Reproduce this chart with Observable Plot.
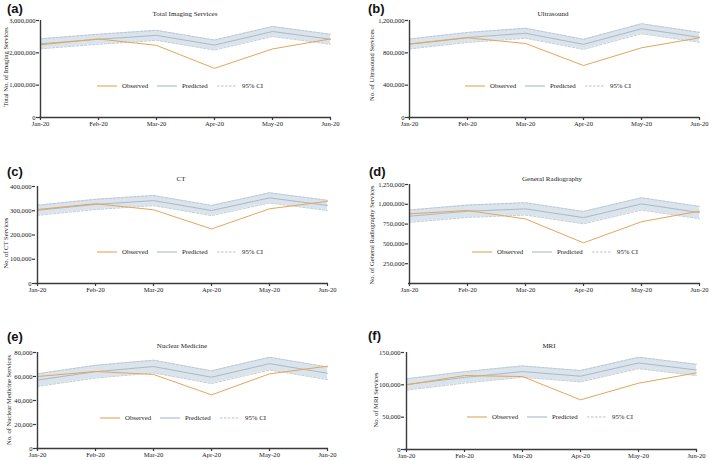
<!DOCTYPE html>
<html><head><meta charset="utf-8">
<script src="https://cdn.jsdelivr.net/npm/d3@7"></script>
<script src="https://cdn.jsdelivr.net/npm/@observablehq/plot@0.6"></script>
<style>
body{margin:0;background:#fff;}
#root{position:relative;width:709px;height:460px;overflow:hidden;font-family:"Liberation Serif",serif;color:#222;}
.abs{position:absolute;}
.letter{font-family:"Liberation Sans",Arial,sans-serif;font-weight:bold;font-size:13px;line-height:13px;color:#111;}
.title{font-size:7px;line-height:8px;white-space:nowrap;transform:translate(-50%,-50%);}
.ylab{font-size:6.6px;line-height:7px;white-space:nowrap;transform:translate(-50%,-50%) rotate(-90deg);}
.legend{display:flex;align-items:center;font-size:6.8px;line-height:8px;transform:translateY(-50%);white-space:nowrap;}
.item{display:flex;align-items:center;width:60px;}
.item svg{margin-right:5px;}
svg.plot{position:absolute;}
</style></head><body><div id="root"></div>
<script>
const months = ["Jan-20","Feb-20","Mar-20","Apr-20","May-20","Jun-20"];

// (a) Total Imaging Services
const totalObserved  = [2250000, 2430000, 2230000, 1520000, 2120000, 2430000];
const totalPredicted = [2280000, 2420000, 2540000, 2240000, 2660000, 2420000];
const totalLower     = [2125000, 2265000, 2385000, 2085000, 2505000, 2265000];
const totalUpper     = [2435000, 2575000, 2695000, 2395000, 2815000, 2575000];
const totalTicks     = [0, 1000000, 2000000, 3000000];

// (b) Ultrasound
const usObserved  = [907000, 986000, 916000, 643000, 862000, 986000];
const usPredicted = [910000, 990000, 1042000, 905000, 1098000, 992000];
const usLower     = [848000, 928000, 980000, 843000, 1036000, 930000];
const usUpper     = [972000, 1052000, 1104000, 967000, 1160000, 1054000];
const usTicks     = [0, 400000, 800000, 1200000];

// (c) CT
const ctObserved  = [305000, 329000, 304000, 225000, 308000, 339000];
const ctPredicted = [302000, 326000, 342000, 301000, 353000, 322000];
const ctLower     = [281000, 305000, 321000, 280000, 332000, 301000];
const ctUpper     = [323000, 347000, 363000, 322000, 374000, 343000];
const ctTicks     = [0, 100000, 200000, 300000, 400000];

// (d) General Radiography
const grObserved  = [880000, 922000, 815000, 513000, 780000, 914000];
const grPredicted = [850000, 912000, 942000, 832000, 1005000, 895000];
const grLower     = [772000, 834000, 864000, 754000, 927000, 817000];
const grUpper     = [928000, 990000, 1020000, 910000, 1083000, 973000];
const grTicks     = [250000, 500000, 750000, 1000000, 1250000];

// (e) Nuclear Medicine
const nmObserved  = [60000, 64200, 61700, 44700, 62200, 68600];
const nmPredicted = [57000, 64000, 68300, 59400, 70700, 62700];
const nmLower     = [51700, 58700, 63000, 54100, 65400, 57400];
const nmUpper     = [62300, 69300, 73600, 64700, 76000, 68000];
const nmTicks     = [0, 20000, 40000, 60000, 80000];

// (f) MRI
const mriObserved  = [100000, 114400, 112800, 76800, 102500, 118500];
const mriPredicted = [100500, 111500, 120500, 113300, 133800, 123000];
const mriLower     = [91700, 102700, 111700, 104500, 125000, 114200];
const mriUpper     = [109300, 120300, 129300, 122100, 142600, 131800];
const mriTicks     = [0, 50000, 100000, 150000];

const legendLabels = ["Observed", "Predicted", "95% CI"];

const C = {obs:"#e2a65a", pred:"#aab9c9", band:"#dbe3eb", ci:"#b3c1cf", axis:"#3a3a3a"};
const root = document.getElementById("root");

const panels = [
  {letter:"(a)", title:"Total Imaging Services", ylabel:"Total No. of Imaging Services",
   obs:totalObserved, pred:totalPredicted, lo:totalLower, hi:totalUpper, ticks:totalTicks, ymax:3000000,
   left:0, top:0, w:354, h:140, ml:39, mr:23, mt:20, mb:23,
   letterXY:[7,2], titleXY:[185,14], ylabXY:[5,67], legXY:[97,86]},
  {letter:"(b)", title:"Ultrasound", ylabel:"No. of Ultrasound Services",
   obs:usObserved, pred:usPredicted, lo:usLower, hi:usUpper, ticks:usTicks, ymax:1200000,
   left:355, top:0, w:354, h:140, ml:53, mr:10, mt:20, mb:23,
   letterXY:[368,2], titleXY:[553,14], ylabXY:[371,65], legXY:[465,86]},
  {letter:"(c)", title:"CT", ylabel:"No. of CT Services",
   obs:ctObserved, pred:ctPredicted, lo:ctLower, hi:ctUpper, ticks:ctTicks, ymax:400000,
   left:0, top:150, w:354, h:150, ml:35, mr:26, mt:36, mb:17,
   letterXY:[7,165], titleXY:[181,179], ylabXY:[5,243], legXY:[97,252]},
  {letter:"(d)", title:"General Radiography", ylabel:"No. of General Radiography Services",
   obs:grObserved, pred:grPredicted, lo:grLower, hi:grUpper, ticks:grTicks, ymax:1250000,
   left:355, top:150, w:354, h:150, ml:53, mr:9, mt:34, mb:17,
   letterXY:[369,165], titleXY:[552,179], ylabXY:[371,235], legXY:[472,252]},
  {letter:"(e)", title:"Nuclear Medicine", ylabel:"No. of Nuclear Medicine Services",
   obs:nmObserved, pred:nmPredicted, lo:nmLower, hi:nmUpper, ticks:nmTicks, ymax:80000,
   left:0, top:300, w:354, h:160, ml:36, mr:26, mt:52, mb:12,
   letterXY:[7,330], titleXY:[182,346], ylabXY:[8,400], legXY:[100,418]},
  {letter:"(f)", title:"MRI", ylabel:"No. of MRI Services",
   obs:mriObserved, pred:mriPredicted, lo:mriLower, hi:mriUpper, ticks:mriTicks, ymax:150000,
   left:355, top:300, w:354, h:160, ml:49, mr:12, mt:52, mb:11,
   letterXY:[368,329], titleXY:[549,346], ylabXY:[375,400], legXY:[467,417]}
];

function div(cls, text, x, y) {
  const d = document.createElement("div");
  d.className = "abs " + cls;
  d.textContent = text;
  d.style.left = x + "px"; d.style.top = y + "px";
  root.appendChild(d);
  return d;
}

function swatch(kind) {
  const ns = "http://www.w3.org/2000/svg";
  const s = document.createElementNS(ns, "svg");
  s.setAttribute("width", 20); s.setAttribute("height", 4);
  const l = document.createElementNS(ns, "line");
  l.setAttribute("x1", 0); l.setAttribute("x2", 20); l.setAttribute("y1", 2); l.setAttribute("y2", 2);
  if (kind === 0) { l.setAttribute("stroke", C.obs); l.setAttribute("stroke-width", 1.1); }
  if (kind === 1) { l.setAttribute("stroke", C.pred); l.setAttribute("stroke-width", 1.1); }
  if (kind === 2) { l.setAttribute("stroke", C.ci); l.setAttribute("stroke-width", 1); l.setAttribute("stroke-dasharray", "2.5,1.5"); }
  s.appendChild(l);
  return s;
}

for (const p of panels) {
  const rows = months.map((m, i) => ({month:m, obs:p.obs[i], pred:p.pred[i], lo:p.lo[i], hi:p.hi[i]}));
  const svg = Plot.plot({
    width:p.w, height:p.h, marginLeft:p.ml, marginRight:p.mr, marginTop:p.mt, marginBottom:p.mb,
    style:{fontFamily:"Liberation Serif, serif", fontSize:"6.6px", color:C.axis, background:"transparent", overflow:"visible"},
    x:{type:"point", domain:months, padding:0},
    y:{domain:[0, p.ymax]},
    marks:[
      Plot.areaY(rows, {x:"month", y1:"lo", y2:"hi", fill:C.band}),
      Plot.lineY(rows, {x:"month", y:"lo", stroke:C.ci, strokeWidth:0.8, strokeDasharray:"2.5,1.5"}),
      Plot.lineY(rows, {x:"month", y:"hi", stroke:C.ci, strokeWidth:0.8, strokeDasharray:"2.5,1.5"}),
      Plot.lineY(rows, {x:"month", y:"pred", stroke:C.pred, strokeWidth:1}),
      Plot.lineY(rows, {x:"month", y:"obs", stroke:C.obs, strokeWidth:1}),
      Plot.axisY({ticks:p.ticks, tickFormat:d3.format(","), tickSize:3, tickPadding:1, label:null, fill:"#222", strokeWidth:1.2}),
      Plot.axisX({tickSize:3, tickPadding:1, label:null, fill:"#222", strokeWidth:1.2}),
      Plot.ruleY([0], {stroke:C.axis, strokeWidth:1.4}),
      Plot.ruleX([months[0]], {stroke:C.axis, strokeWidth:1.4})
    ]
  });
  svg.classList.add("plot");
  svg.style.left = p.left + "px"; svg.style.top = p.top + "px";
  root.appendChild(svg);

  div("letter", p.letter, p.letterXY[0], p.letterXY[1]);
  div("title", p.title, p.titleXY[0], p.titleXY[1]);
  div("ylab", p.ylabel, p.ylabXY[0], p.ylabXY[1]);

  const leg = document.createElement("div");
  leg.className = "abs legend";
  leg.style.left = p.legXY[0] + "px"; leg.style.top = p.legXY[1] + "px";
  legendLabels.forEach((t, k) => {
    const it = document.createElement("div");
    it.className = "item";
    it.appendChild(swatch(k));
    const sp = document.createElement("span");
    sp.textContent = t;
    it.appendChild(sp);
    leg.appendChild(it);
  });
  root.appendChild(leg);
}
</script>
</body></html>
